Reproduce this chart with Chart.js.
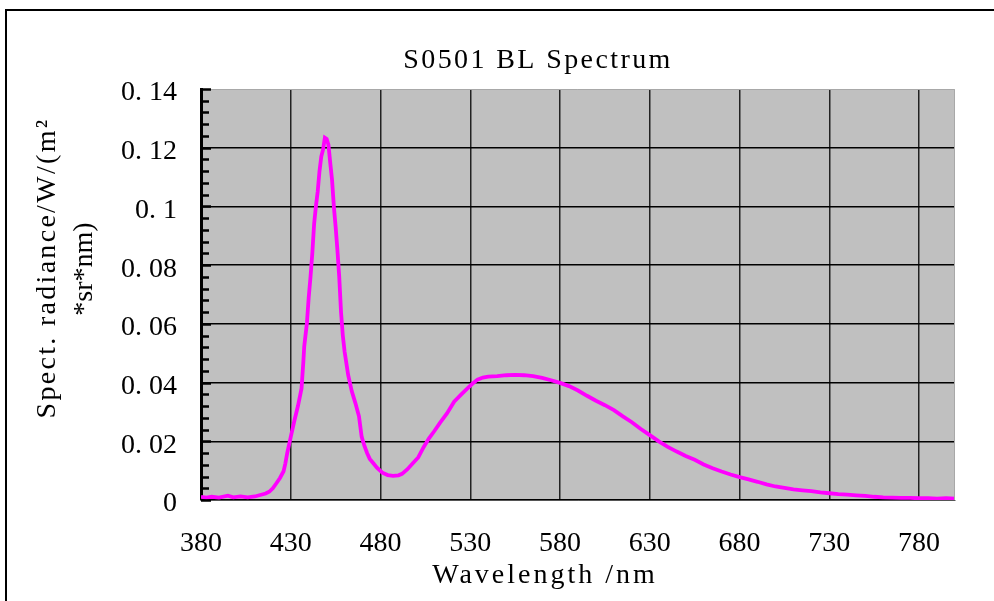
<!doctype html>
<html lang="en">
<head>
  <meta charset="utf-8">
  <title>S0501 BL Spectrum</title>
  <style>
    * {
      margin: 0;
      padding: 0;
    }

    body {
      background: white;
      width: 994px;
      height: 601px;
      overflow: hidden;
      position: relative;
    }

    .frame {
      position: absolute;
      left: 5px;
      top: 9px;
      width: 1000px;
      height: 600px;
      border-top: 2px solid #000;
      border-left: 2px solid #000;
    }

    .chartBox {
      position: absolute;
      left: 0;
      top: 0;
      width: 994px;
      height: 601px;
    }
  </style>
</head>
<body>
  <div class="frame"></div>
  <div class="chartBox"><canvas id="myChart"></canvas></div>
  <script src="https://cdn.jsdelivr.net/npm/chart.js"></script>
  <script>
    // data
    const wavelengths = [380, 383, 386, 390, 395, 398, 402, 406, 410, 413, 416, 418, 420, 422, 424, 426, 427, 428, 430, 432,
      434, 436, 437, 437.5, 439, 440, 441, 442, 443, 444, 445, 446, 447, 448, 449, 450, 451, 452, 453, 454,
      455, 456, 457, 458, 459, 460, 462, 464, 466, 468, 469.5, 471, 472.5, 474, 476, 478, 481, 484, 487, 490,
      492, 495, 498, 501, 504, 507, 510, 513, 517, 521, 525, 528, 531, 534, 537, 540, 545, 550, 555, 560,
      565, 570, 575, 580, 585, 590, 595, 600, 605, 610, 615, 620, 625, 630, 635, 640, 645, 650, 655, 660,
      665, 670, 675, 680, 685, 690, 695, 700, 705, 710, 715, 720, 725, 730, 735, 740, 745, 750, 755, 760,
      765, 770, 775, 780, 785, 790, 795, 800];
    const radiance = [0.0011, 0.0008, 0.0011, 0.0008, 0.0015, 0.0009, 0.0012, 0.0009, 0.0012, 0.0017, 0.0022, 0.0028, 0.0040, 0.0057, 0.0075, 0.0098, 0.0125, 0.0159, 0.0215, 0.0270,
      0.0320, 0.0380, 0.0470, 0.0523, 0.0603, 0.0690, 0.0760, 0.0840, 0.0940, 0.1000, 0.1050, 0.1120, 0.1170, 0.1194, 0.1234, 0.1230, 0.1210, 0.1148, 0.1090, 0.1000,
      0.0930, 0.0850, 0.0760, 0.0640, 0.0560, 0.0505, 0.0425, 0.0370, 0.0330, 0.0285, 0.0215, 0.0185, 0.0160, 0.0140, 0.0125, 0.0110, 0.0093, 0.0085, 0.0082, 0.0084,
      0.0089, 0.0105, 0.0125, 0.0145, 0.0180, 0.0210, 0.0235, 0.0262, 0.0295, 0.0335, 0.0360, 0.0378, 0.0395, 0.0410, 0.0417, 0.0420, 0.0422, 0.0425, 0.0426, 0.0425,
      0.0422, 0.0416, 0.0408, 0.0399, 0.0388, 0.0373, 0.0355, 0.0338, 0.0323, 0.0306, 0.0285, 0.0265, 0.0242, 0.0221, 0.0200, 0.0181, 0.0165, 0.0150, 0.0137, 0.0121,
      0.0108, 0.0097, 0.0087, 0.0078, 0.0070, 0.0062, 0.0053, 0.0046, 0.0041, 0.0036, 0.0033, 0.0030, 0.0026, 0.0023, 0.0020, 0.0018, 0.0016, 0.0014, 0.0011, 0.0009,
      0.0008, 0.0007, 0.0007, 0.0006, 0.0006, 0.0005, 0.0006, 0.0005];
    const xTicks = [380, 430, 480, 530, 580, 630, 680, 730, 780];
    const yTicks = [0, 0.02, 0.04, 0.06, 0.08, 0.1, 0.12, 0.14];
    const yMinorStep = 0.004;

    const titleText = 'S0501 BL Spectrum';
    const xTitle = 'Wavelength /nm';
    const yTitle = ['Spect. radiance/W/(m\u00b2', '*sr*nm)'];

    const font = '"Liberation Serif", serif';

    // gray plot background, minor ticks, titles
    const framePlugin = {
      id: 'framePlugin',
      beforeDraw(chart) {
        const { ctx, chartArea: a } = chart;
        ctx.save();
        ctx.fillStyle = '#c0c0c0';
        ctx.fillRect(a.left, a.top, a.right - a.left, a.bottom - a.top);
        ctx.restore();
      },
      afterDraw(chart) {
        const { ctx, chartArea: a, scales: { y } } = chart;
        ctx.save();
        ctx.strokeStyle = '#a8a8a8';
        ctx.lineWidth = 1;
        ctx.beginPath();
        ctx.moveTo(a.left, a.top + 0.5);
        ctx.lineTo(a.right - 0.5, a.top + 0.5);
        ctx.lineTo(a.right - 0.5, a.bottom);
        ctx.stroke();

        ctx.strokeStyle = '#000';
        ctx.lineWidth = 2.5;
        for (let i = 0; i * yMinorStep <= 0.14 + 1e-9; i++) {
          const py = Math.round(y.getPixelForValue(i * yMinorStep)) + 0.5;
          ctx.beginPath();
          ctx.moveTo(a.left, py);
          ctx.lineTo(a.left + (i % 5 === 0 ? 10 : 8), py);
          ctx.stroke();
        }

        ctx.fillStyle = '#000';
        ctx.font = '28px ' + font;
        ctx.textAlign = 'center';
        ctx.textBaseline = 'alphabetic';
        ctx.letterSpacing = '2.4px';
        ctx.fillText(titleText, 538, 68);
        ctx.letterSpacing = '3px';
        ctx.fillText(xTitle, 545, 583);

        ctx.textBaseline = 'middle';
        ctx.translate(48, 269);
        ctx.rotate(-Math.PI / 2);
        ctx.letterSpacing = '2.3px';
        ctx.fillText(yTitle[0], 1, 0);
        ctx.letterSpacing = '0px';
        ctx.fillText(yTitle[1], 0, 37);
        ctx.restore();
      }
    };

    const data = {
      datasets: [{
        label: 'Spectrum',
        data: wavelengths.map((w, i) => ({ x: w, y: radiance[i] })),
        borderColor: '#ff00ff',
        borderWidth: 3.8,
        pointRadius: 0,
        tension: 0,
        fill: false
      }]
    };

    const config = {
      type: 'line',
      data,
      options: {
        responsive: true,
        maintainAspectRatio: false,
        animation: false,
        layout: { padding: { left: 0, top: 89, right: 39, bottom: 0 } },
        plugins: {
          legend: { display: false },
          tooltip: { enabled: false }
        },
        scales: {
          x: {
            type: 'linear',
            min: 380,
            max: 800,
            afterBuildTicks: s => { s.ticks = xTicks.map(v => ({ value: v })); },
            afterFit: s => { s.height = 101; },
            border: { display: true, color: '#555', width: 1 },
            grid: { color: '#222', lineWidth: 1.5, drawTicks: false },
            ticks: {
              color: '#000',
              font: { family: font, size: 28 },
              padding: 27,
              maxRotation: 0,
              autoSkip: false
            }
          },
          y: {
            min: 0,
            max: 0.14,
            afterBuildTicks: s => { s.ticks = yTicks.map(v => ({ value: v })); },
            afterFit: s => { s.width = 201; },
            border: { display: true, color: '#000', width: 3 },
            grid: {
              color: c => (c.tick && c.tick.value >= 0.14 ? 'rgba(0,0,0,0)' : '#000'),
              lineWidth: 1.5,
              drawTicks: false
            },
            ticks: {
              color: '#000',
              font: { family: font, size: 28 },
              padding: 24,
              labelOffset: 4,
              callback: v => (v === 0 ? '0' : String(+v.toFixed(2)).replace('.', '. '))
            }
          }
        }
      },
      plugins: [framePlugin]
    };

    const myChart = new Chart(document.getElementById('myChart'), config);
  </script>
</body>
</html>
